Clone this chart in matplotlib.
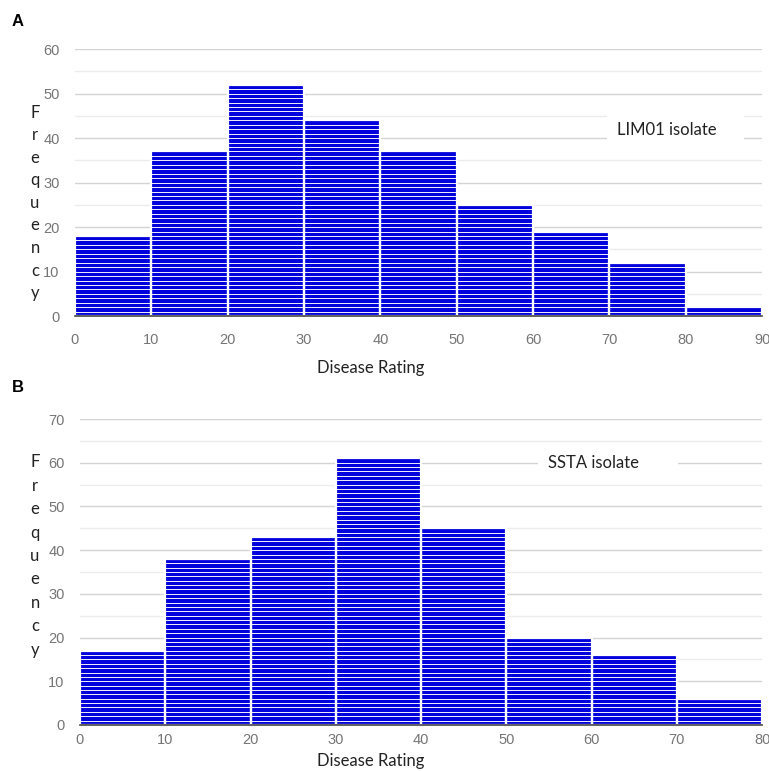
import numpy as np
import matplotlib
matplotlib.use("Agg")
import matplotlib.pyplot as plt
from matplotlib.patches import Rectangle

# Data
bins_a = [0, 10, 20, 30, 40, 50, 60, 70, 80, 90]
counts_a = [18, 37, 52, 44, 37, 25, 19, 12, 2]
bins_b = [0, 10, 20, 30, 40, 50, 60, 70, 80]
counts_b = [17, 38, 43, 61, 45, 20, 16, 6]
yticks_a = list(range(0, 61, 10))
yticks_b = list(range(0, 71, 10))
label_a = "LIM01 isolate"
label_b = "SSTA isolate"
xlabel = "Disease Rating"
ylabel = "Frequency"

BLUE = "#0000dc"
fig = plt.figure(figsize=(7.69, 7.71), dpi=100)

def draw(ax, bins, counts, yticks, label, text_xy, box, xpad):
    left = np.array(bins[:-1], dtype=float)
    widths = np.diff(bins)
    for l, w, c in zip(left, widths, counts):
        bottoms = np.arange(c)
        ax.bar(np.full(c, l), np.ones(c), width=w, bottom=bottoms, align="edge",
               color=BLUE, edgecolor="white", linewidth=0.6, zorder=3)
    for l, w, c in zip(left, widths, counts):
        ax.bar(l, c, width=w, align="edge", facecolor="none", edgecolor="white",
               linewidth=1.6, zorder=4)
    ymax = yticks[-1]
    ax.set_ylim(0, ymax)
    ax.set_xlim(bins[0], bins[-1])
    ax.set_yticks(yticks)
    ax.set_yticks(np.arange(5, ymax, 10), minor=True)
    ax.set_xticks(bins)
    ax.grid(axis="y", which="major", color="#d4d4d4", linewidth=1.0, zorder=0)
    ax.grid(axis="y", which="minor", color="#ececec", linewidth=1.0, zorder=0)
    ax.set_axisbelow(True)
    for s in ["top", "right", "left"]:
        ax.spines[s].set_visible(False)
    ax.spines["bottom"].set_color("#444444")
    ax.spines["bottom"].set_linewidth(1.2)
    ax.spines["bottom"].set_zorder(5)
    ax.tick_params(axis="both", which="both", length=0, labelsize=10.5,
                   labelcolor="#757575", labelfontfamily="Liberation Sans")
    ax.tick_params(axis="y", pad=11)
    ax.tick_params(axis="x", pad=xpad)
    ax.add_patch(Rectangle((box[0], box[1]), box[2] - box[0], box[3] - box[1],
                           facecolor="white", edgecolor="none", zorder=2))
    ax.text(text_xy[0], text_xy[1], label, fontsize=12, family="Lato",
            color="#222222", ha="left", va="center", zorder=6)

axA = fig.add_axes([0.0975, 0.5900, 0.8935, 0.3463])
draw(axA, bins_a, counts_a, yticks_a, label_a, (71.0, 41.8), (69.7, 38.0, 87.6, 46.5), 12)
axB = fig.add_axes([0.1040, 0.0597, 0.8870, 0.3968])
draw(axB, bins_b, counts_b, yticks_b, label_b, (54.9, 60.0), (53.7, 57.5, 70.1, 62.5), 6)

# axis labels
fig.text(371 / 769, 1 - 368 / 771, xlabel, fontsize=12, family="Lato",
         color="#222222", ha="center", va="center")
fig.text(371 / 769, 1 - 761 / 771, xlabel, fontsize=12, family="Lato",
         color="#222222", ha="center", va="center")
fig.text(35 / 769, 1 - 203 / 771, "\n".join(ylabel), fontsize=12, family="Lato",
         color="#222222", ha="center", va="center", linespacing=1.5)
fig.text(35 / 769, 1 - 556 / 771, "\n".join(ylabel), fontsize=12, family="Lato",
         color="#222222", ha="center", va="center", linespacing=1.57)

# panel letters
fig.text(18 / 769, 1 - 22 / 771, "A", fontsize=12, fontweight="bold",
         family="Liberation Sans", ha="center", va="center")
fig.text(18 / 769, 1 - 388 / 771, "B", fontsize=12, fontweight="bold",
         family="Liberation Sans", ha="center", va="center")

fig.savefig("out.png", dpi=100)
